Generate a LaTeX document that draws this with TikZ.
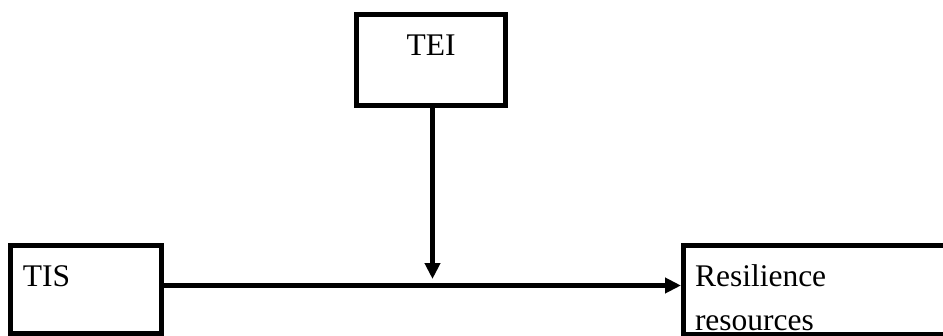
\documentclass[tikz,border=0pt]{standalone}
\usepackage{fontspec}
\setmainfont{Liberation Serif}
\usetikzlibrary{arrows.meta}
\begin{document}
\begin{tikzpicture}[x=1pt,y=-1pt,
  box/.style={draw=black,line width=5pt,fill=none,inner sep=0pt,outer sep=0pt},
  lbl/.style={inner sep=0pt,outer sep=0pt,font=\fontsize{31.5}{45}\selectfont},
  conn/.style={line width=5pt,-{Triangle[length=16pt,width=15pt]}}]
\useasboundingbox (0,0) rectangle (943,335);
\clip (0,0) rectangle (943,335);
\node[box,minimum width=149pt,minimum height=91pt] (tei) at (431,60) {};
\node[box,minimum width=151pt,minimum height=88pt] (tis) at (86,289) {};
\node[box,minimum width=316.5pt,minimum height=89pt] (res) at (841.75,289.5) {};
\node[lbl,anchor=base] (teit) at (431,55) {TEI};
\node[lbl,anchor=base west] (tist) at (23,286) {TIS};
\node[lbl,anchor=base west] (rest1) at (695,286) {Resilience};
\node[lbl,anchor=base west] (rest2) at (695,330) {resources};
\coordinate (hy) at (0,285.5);
\coordinate (j) at (432.5,279);
\draw[conn] (tis.east |- hy) -- ([xshift=-2.5pt]res.west |- hy);
\draw[conn] (tei.south -| j) -- (j);
\end{tikzpicture}
\end{document}
